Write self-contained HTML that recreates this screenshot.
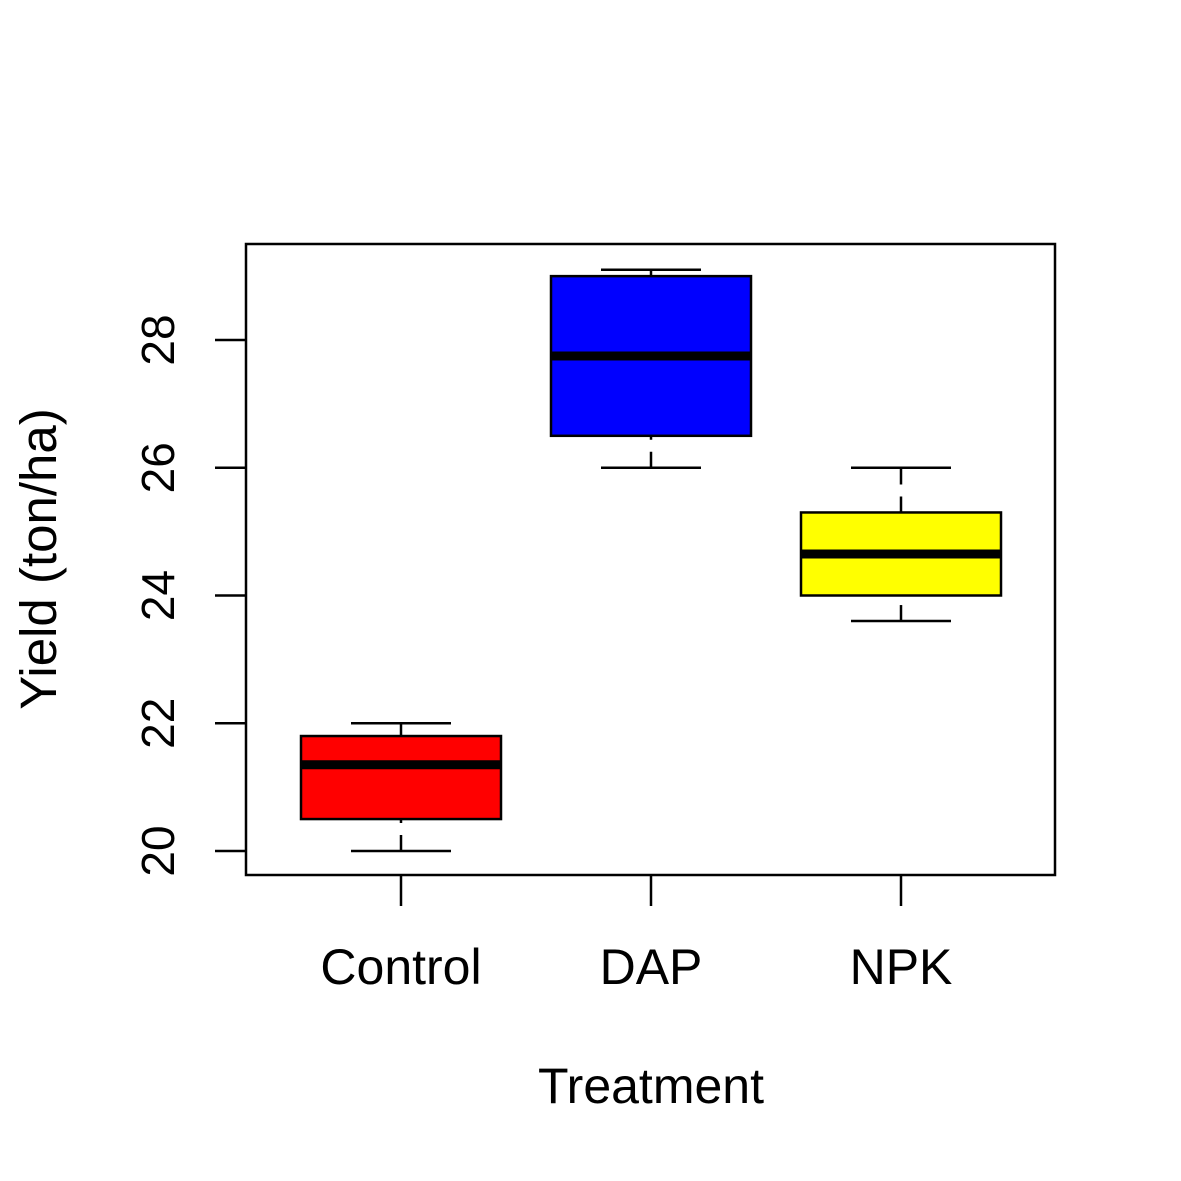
<!DOCTYPE html>
<html><head><meta charset="utf-8"><style>
html,body{margin:0;padding:0;background:#fff}
svg{display:block;font-family:"Liberation Sans",Arial,sans-serif}
</style></head><body>
<svg id="chart" width="1181" height="1181" viewBox="0 0 1181 1181"></svg>
<script>
const categories = ["Control","DAP","NPK"];
const colors = ["#ff0000","#0000ff","#ffff00"];
const whiskerLow = [20, 26, 23.6];
const q1 = [20.5, 26.5, 24];
const medians = [21.35, 27.75, 24.65];
const q3 = [21.8, 29.0, 25.3];
const whiskerHigh = [22, 29.1, 26];
const yTicks = [20,22,24,26,28];

const NS="http://www.w3.org/2000/svg";
const svg=document.getElementById('chart');
const y=v=>851-(v-20)*63.875;
const x=i=>401+i*250;
function el(tag,attrs,parent){const e=document.createElementNS(NS,tag);for(const k in attrs)e.setAttribute(k,attrs[k]);(parent||svg).appendChild(e);return e;}

const frame=el('rect',{x:246,y:244,width:809,height:631,fill:'none',stroke:'#000','stroke-width':2.5});



yTicks.forEach(t=>{
  const g=el('g',{});
  
  
  el('line',{x1:246,x2:215,y1:y(t),y2:y(t),stroke:'#000','stroke-width':2.5},g);
  const tx=el('text',{x:0,y:0,'font-size':46,'text-anchor':'middle',transform:`translate(174,${y(t)}) rotate(-90)`},g);
  tx.textContent=t;
});

categories.forEach((c,i)=>{
  const cx=x(i);
  const g=el('g',{});
  
  
  el('line',{x1:cx,x2:cx,y1:y(whiskerLow[i]),y2:y(q1[i]),stroke:'#000','stroke-width':2.5,'stroke-dasharray':'16,12'},g);
  el('line',{x1:cx,x2:cx,y1:y(q3[i]),y2:y(whiskerHigh[i]),stroke:'#000','stroke-width':2.5,'stroke-dasharray':'16,12'},g);
  el('line',{x1:cx-50,x2:cx+50,y1:y(whiskerLow[i]),y2:y(whiskerLow[i]),stroke:'#000','stroke-width':2.5},g);
  el('line',{x1:cx-50,x2:cx+50,y1:y(whiskerHigh[i]),y2:y(whiskerHigh[i]),stroke:'#000','stroke-width':2.5},g);
  el('rect',{x:cx-100,y:y(q3[i]),width:200,height:y(q1[i])-y(q3[i]),fill:colors[i],stroke:'#000','stroke-width':2.5},g);
  el('line',{x1:cx-100,x2:cx+100,y1:y(medians[i]),y2:y(medians[i]),stroke:'#000','stroke-width':9},g);
  const tk=el('line',{x1:cx,x2:cx,y1:875,y2:906,stroke:'#000','stroke-width':2.5});
  
  
  const lb=el('text',{x:cx,y:984,'font-size':50,'text-anchor':'middle'});
  
  
  lb.textContent=c;
});

const xt=el('text',{x:651,y:1103,'font-size':50,'text-anchor':'middle'});


xt.textContent='Treatment';
const yt=el('text',{x:0,y:0,'font-size':51,'text-anchor':'middle',transform:'translate(56,559) rotate(-90)'});


yt.textContent='Yield (ton/ha)';
</script>
</body></html>
